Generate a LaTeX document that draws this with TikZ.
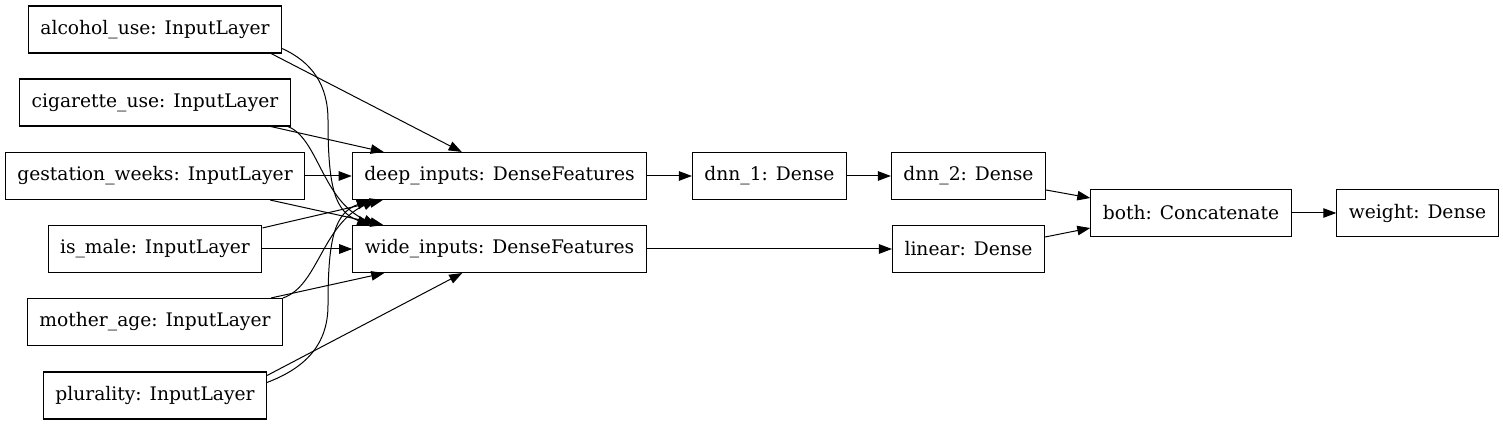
\documentclass[tikz,border=0pt]{standalone}
\usepackage{fontspec}
\setmainfont{DejaVu Serif}
\usetikzlibrary{arrows.meta}
\tikzset{
  layer/.style={draw, line width=1.1pt, minimum height=47pt, inner xsep=12pt, inner ysep=2pt,
    font=\fontsize{18.67}{22}\selectfont, anchor=center},
  edge/.style={line width=1pt, -{Triangle[length=13pt,width=9.5pt]}}
}
\begin{document}
\begin{tikzpicture}[x=1pt,y=-1pt]
\useasboundingbox (0,0) rectangle (1503,427);
\node[layer] (alc) at (155,29.5) {alcohol\_use: InputLayer};
\node[layer] (cig) at (155,102.5) {cigarette\_use: InputLayer};
\node[layer] (gest) at (155,176) {gestation\_weeks: InputLayer};
\node[layer] (male) at (155,249) {is\_male: InputLayer};
\node[layer] (moth) at (155,322) {mother\_age: InputLayer};
\node[layer] (plur) at (155,395.5) {plurality: InputLayer};
\node[layer] (deep) at (499.5,176) {deep\_inputs: DenseFeatures};
\node[layer] (wide) at (499.5,249) {wide\_inputs: DenseFeatures};
\node[layer] (dnn1) at (769.5,176) {dnn\_1: Dense};
\node[layer] (dnn2) at (968.5,176) {dnn\_2: Dense};
\node[layer] (lin) at (968.5,249) {linear: Dense};
\node[layer] (both) at (1191,213) {both: Concatenate};
\node[layer] (weight) at (1417.5,213) {weight: Dense};

% straight edges
\draw[edge] ([xshift=-11pt]alc.south east) -- ([xshift=110pt]deep.north west);
\draw[edge] ([xshift=-20pt]cig.south east) -- ([xshift=32pt]deep.north west);
\draw[edge] (gest.east) -- (deep.west);
\draw[edge] ([xshift=-35pt]gest.south east) -- ([xshift=31pt]wide.north west);
\draw[edge] ([yshift=-3pt]male.north east) -- ([xshift=31pt]deep.south west);
\draw[edge] (male.east) -- (wide.west);
\draw[edge] ([xshift=-12pt]moth.north east) -- ([xshift=32pt]wide.south west);
\draw[edge] ([yshift=-4pt]plur.north east) -- ([xshift=110pt]wide.south west);
% curved edges
\draw[edge] ([yshift=5pt]alc.south east) .. controls (312,62) and (328,85) .. (328,120)
  .. controls (328,188) and (335,212) .. ([xshift=18pt]wide.north west);
\draw[edge] ([xshift=-3pt]cig.south east) .. controls (318,138) and (322,200) .. ([xshift=24pt]wide.north west);
\draw[edge] (moth.north east) .. controls (318,286) and (322,225) .. ([xshift=24pt]deep.south west);
\draw[edge] ([yshift=-11pt]plur.north east) .. controls (305,368) and (328,345) .. (328,305)
  .. controls (328,237) and (335,213) .. ([xshift=18pt]deep.south west);
% right part
\draw[edge] (deep.east) -- (dnn1.west);
\draw[edge] (dnn1.east) -- (dnn2.west);
\draw[edge] (wide.east) -- (lin.west);
\draw[edge] ([yshift=-14pt]dnn2.east) -- ([yshift=15pt]both.west);
\draw[edge] ([yshift=12pt]lin.east) -- ([yshift=-15pt]both.west);
\draw[edge] (both.east) -- (weight.west);
\end{tikzpicture}
\end{document}
